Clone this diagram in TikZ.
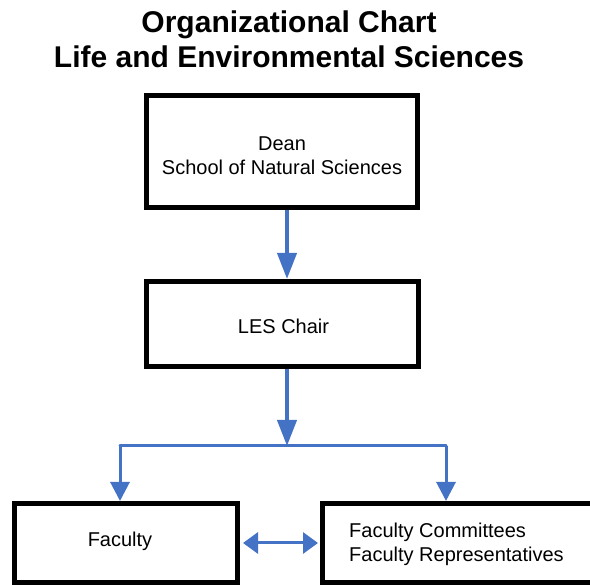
\documentclass[tikz,border=0pt]{standalone}
\usepackage{fontspec}
\setmainfont{Liberation Sans}
\usetikzlibrary{arrows.meta}
\definecolor{lnblue}{RGB}{68,114,196}
\tikzset{
  orgbox/.style={draw=black, line width=5pt, fill=white, inner sep=0pt},
  bodytxt/.style={font=\fontsize{20}{24}\selectfont, inner sep=0pt, align=center},
  titletxt/.style={font=\fontsize{30}{35}\selectfont\bfseries, inner sep=0pt, align=center},
  mainarr/.style={draw=lnblue, line width=4pt, -{Triangle[length=26pt,width=19pt]}},
  subarr/.style={draw=lnblue, line width=3pt, -{Triangle[length=19pt,width=19pt]}},
  busline/.style={draw=lnblue, line width=3pt},
  dblarr/.style={draw=lnblue, line width=3pt, {Triangle[length=15pt,width=21pt]}-{Triangle[length=15pt,width=21pt]}}
}
\begin{document}
\begin{tikzpicture}[x=1pt,y=-1pt]
\useasboundingbox (0,0) rectangle (590,585);
\clip (0,0) rectangle (590,585);
% title
\node[titletxt] (title) at (289,39) {Organizational Chart\\Life and Environmental Sciences};
% boxes
\node[orgbox, minimum width=271pt, minimum height=112pt] (dean) at (282,151.5) {};
\node[bodytxt] (deantxt) at (282,156) {Dean\\School of Natural Sciences};
\node[orgbox, minimum width=272pt, minimum height=85pt] (les) at (282.5,324) {};
\node[bodytxt] (lestxt) at (283.5,326) {LES Chair};
\node[orgbox, minimum width=223pt, minimum height=79pt] (fac) at (126,543) {};
\node[bodytxt] (factxt) at (120,541) {Faculty};
\node[orgbox, minimum width=300pt, minimum height=79pt] (com) at (472.5,543) {};
\node[bodytxt, align=left, anchor=west] (comtxt) at (349,544) {Faculty Committees\\Faculty Representatives};
% connectors
\coordinate (axis) at (287,0);
\coordinate (bus) at (287,446);
\coordinate (busL) at (120,446);
\coordinate (busR) at (446,446);
\draw[mainarr] (dean.south -| axis) -- (les.north -| axis);
\draw[mainarr] (les.south -| axis) -- (bus);
\draw[busline, line cap=round] (busL) -- (busR);
\draw[subarr] (busL) -- (fac.north -| busL);
\draw[subarr] (busR) -- (com.north -| busR);
\coordinate (dy) at (0,543);
\draw[dblarr] ([xshift=3pt]fac.east |- dy) -- ([xshift=-2pt]com.west |- dy);
\end{tikzpicture}
\end{document}
